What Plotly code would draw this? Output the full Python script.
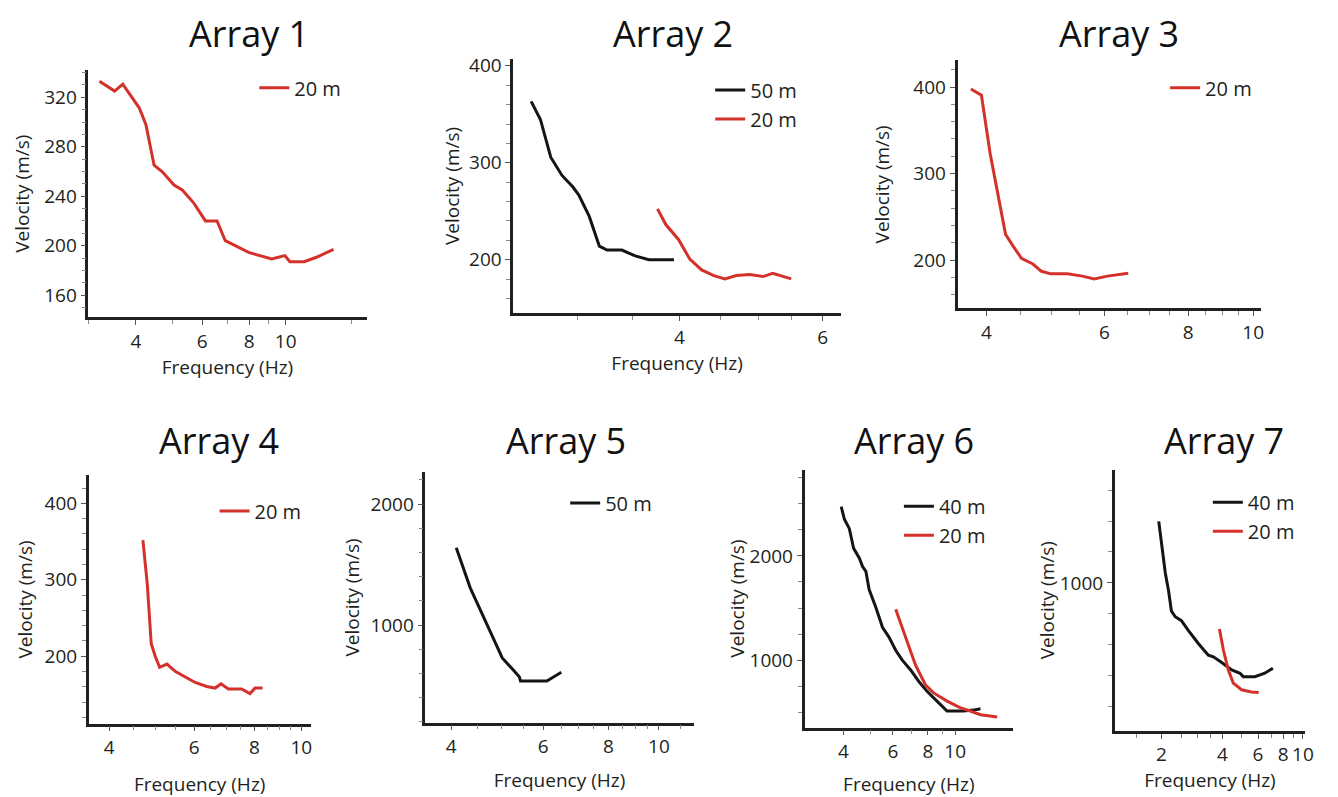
import plotly.graph_objects as go
import math

W, H = 1338, 797
FONT = "Open Sans"
RED = "#d4312b"
BLACK = "#151515"
AXC = "#231f20"

# ---------------- data (frequency Hz, velocity m/s) ----------------
a1_20_f = [3.20, 3.51, 3.69, 4.08, 4.25, 4.47, 4.70, 5.05, 5.31, 5.70, 6.12, 6.57, 6.91, 7.35, 7.97, 9.18, 9.95, 10.26, 11.2, 12.07, 13.4]
a1_20_v = [333, 325, 330.6, 311.5, 298, 265, 259.7, 249, 245, 234.4, 220, 220, 204, 200, 194.5, 189.2, 191.9, 187, 187, 190.6, 197]

a2_50_f = [2.63, 2.70, 2.78, 2.87, 2.96, 3.01, 3.10, 3.19, 3.26, 3.40, 3.53, 3.67, 3.94]
a2_50_v = [363.4, 344.7, 305.8, 287, 275, 266.8, 244.7, 214, 210, 210, 204, 200, 200]
a2_20_f = [3.76, 3.85, 3.99, 4.12, 4.26, 4.41, 4.55, 4.70, 4.88, 5.07, 5.21, 5.49]
a2_20_v = [252.5, 236.3, 221, 200.7, 189.5, 183.7, 180.3, 183.7, 184.7, 182.7, 186, 180.3]

a3_20_f = [3.79, 3.93, 4.05, 4.16, 4.27, 4.38, 4.51, 4.69, 4.83, 4.99, 5.28, 5.56, 5.79, 6.06, 6.51]
a3_20_v = [397.7, 390.5, 322.8, 277, 229.7, 216.3, 202, 195.4, 187, 184, 184, 181.4, 178, 181.4, 184.8]

a4_20_f = [4.70, 4.80, 4.89, 4.99, 5.09, 5.27, 5.49, 5.75, 6.03, 6.37, 6.63, 6.82, 7.06, 7.52, 7.83, 8.02, 8.31]
a4_20_v = [351.8, 293.8, 216.3, 199, 185.4, 189.7, 179.8, 172.5, 165.6, 160.4, 158.3, 163.9, 157, 157, 151, 158.3, 158.3]

a5_50_f = [4.09, 4.35, 4.68, 5.01, 5.26, 5.40, 5.43, 6.10, 6.50]
a5_50_v = [1639, 1307, 1008, 728, 628, 573, 538, 538, 609]

a6_40_f = [3.93, 4.03, 4.20, 4.35, 4.56, 4.68, 4.81, 4.94, 5.22, 5.51, 5.81, 6.14, 6.48, 6.94, 7.42, 7.94, 8.61, 9.35, 9.73, 10.7, 11.6, 12.3]
a6_40_v = [2473, 2356, 2262, 2073, 1978, 1899, 1852, 1678, 1505, 1315, 1221, 1095, 1000, 905, 795, 700, 606, 511, 511, 511, 520, 533]
a6_20_f = [6.14, 6.66, 7.22, 7.83, 8.38, 9.35, 10.4, 11.3, 12.3, 14.1]
a6_20_v = [1489, 1221, 953, 763, 685, 606, 543, 511, 476, 454]

a7_40_f = [1.94, 2.02, 2.09, 2.17, 2.24, 2.34, 2.51, 2.72, 3.05, 3.41, 3.61, 3.97, 4.45, 4.89, 5.07, 5.79, 6.48, 7.11]
a7_40_v = [1398, 1202, 1064, 947, 819, 781, 755, 691, 606, 532, 521, 485, 436, 415, 393, 393, 415, 447]
a7_20_f = [3.87, 4.05, 4.28, 4.53, 4.98, 5.57, 6.05]
a7_20_v = [702, 564, 436, 351, 308, 293, 291]

titles = ["Array 1", "Array 2", "Array 3", "Array 4", "Array 5", "Array 6", "Array 7"]

# ---------------- layout of panels (pixels) ----------------
panels = [
    dict(px=(89, 369), py=(65, 315.7), xr=(2.99, 16.4), yr=(142, 342),
         xt=[4, 6, 8, 10], xm=[3, 5, 7, 9, 15], yt=[160, 200, 240, 280, 320], ym=10,
         xtitle=True, xso=6, yso=10, title_xy=(251, 28), leg_xy=(256, 83),
         series=[("20 m", a1_20_f, a1_20_v, RED)]),
    dict(px=(516.7, 846.7), py=(53.3, 311.7), xr=(2.50, 6.32), yr=(144.7, 407.5),
         xt=[4, 6], xm=[3, 3.5, 4.5, 5, 5.5], yt=[200, 300, 400], ym=20,
         xtitle=True, xso=6, yso=5, title_xy=(678, 28), leg_xy=(715, 100),
         series=[("50 m", a2_50_f, a2_50_v, BLACK), ("20 m", a2_20_f, a2_20_v, RED)]),
    dict(px=(964, 1270), py=(55, 306.7), xr=(3.62, 10.29), yr=(144, 431),
         xt=[4, 6, 8, 10], xm=[4.5, 5, 5.5, 6.5, 7, 7.5, 8.5, 9, 9.5], yt=[200, 300, 400], ym=20,
         xtitle=False, xso=6, yso=19, title_xy=(1127, 28), leg_xy=(1173, 83),
         series=[("20 m", a3_20_f, a3_20_v, RED)]),
    dict(px=(89.3, 312.7), py=(476, 727.7), xr=(3.63, 10.45), yr=(111.7, 436.6),
         xt=[4, 6, 8, 10], xm=[4.5, 5, 5.5, 6.5, 7, 7.5, 8.5, 9, 9.5], yt=[200, 300, 400], ym=20,
         xtitle=True, xso=20, yso=7, title_xy=(220, 441), leg_xy=(216, 512),
         series=[("20 m", a4_20_f, a4_20_v, RED)]),
    dict(px=(428.3, 698.3), py=(472.7, 726.7), xr=(3.57, 11.65), yr=(193, 2263),
         xt=[4, 6, 8, 10], xm=[4.5, 5, 5.5, 6.5, 7, 7.5, 8.5, 9, 9.5, 11], yt=[1000, 2000], ym=200,
         xtitle=True, xso=16, yso=6, title_xy=(570, 441), leg_xy=(569, 504),
         series=[("50 m", a5_50_f, a5_50_v, BLACK)]),
    dict(px=(810, 1020), py=(470, 731.7), xr=(2.91, 16.07), yr=(352, 2830),
         xt=[4, 6, 8, 10], xm=[5, 7, 9], yt=[1000, 2000], ym=250,
         xtitle=True, xso=20, yso=0, title_xy=(920, 441), leg_xy=(905, 522),
         series=[("40 m", a6_40_f, a6_40_v, BLACK), ("20 m", a6_20_f, a6_20_v, RED)]),
    dict(px=(1122.3, 1314), py=(470, 735), xr=(1.176, 10.26), yr=(42, 1734),
         xt=[2, 4, 6, 8, 10], xm=[1.5, 2.5, 3, 3.5, 5, 7, 9], yt=[1000], ym=200,
         xtitle=True, xso=4, yso=0, title_xy=(1232, 441), leg_xy=(1216, 518),
         series=[("40 m", a7_40_f, a7_40_v, BLACK), ("20 m", a7_20_f, a7_20_v, RED)]),
]

fig = go.Figure()
layout = dict(width=W, height=H, margin=dict(l=0, r=0, t=0, b=0),
              paper_bgcolor="white", plot_bgcolor="white", showlegend=True,
              font=dict(family=FONT, color=AXC, size=19), annotations=[])

for i, p in enumerate(panels):
    n = i + 1
    sfx = "" if n == 1 else str(n)
    legname = "legend" if n == 1 else f"legend{n}"
    for (name, fx, vy, col) in p["series"]:
        fig.add_trace(go.Scatter(
            x=fx, y=vy, mode="lines", name=name,
            line=dict(color=col, width=3),
            xaxis="x" + sfx, yaxis="y" + sfx, legend=legname,
            legendgroup=f"{n}-{name}", hoverinfo="skip"))
    xd = [p["px"][0] / W, p["px"][1] / W]
    yd = [1 - p["py"][1] / H, 1 - p["py"][0] / H]
    layout["xaxis" + sfx] = dict(
        domain=xd, type="log",
        range=[math.log10(p["xr"][0]), math.log10(p["xr"][1])],
        anchor="y" + sfx, showgrid=False, zeroline=False,
        showline=True, linecolor=AXC, linewidth=2.5,
        ticks="outside", ticklen=5, tickwidth=1.2, tickcolor="#555",
        tickmode="array", tickvals=p["xt"], ticktext=[str(t) for t in p["xt"]],
        tickfont=dict(size=19, family=FONT, color=AXC),
        minor=dict(tickvals=p["xm"], ticks="outside", ticklen=4, tickwidth=1, tickcolor="#888"),
        title=dict(text="Frequency (Hz)" if p["xtitle"] else "", standoff=p["xso"],
                   font=dict(size=19, family=FONT, color=AXC)),
        fixedrange=True,
    )
    layout["yaxis" + sfx] = dict(
        domain=yd, range=list(p["yr"]), anchor="x" + sfx,
        showgrid=False, zeroline=False,
        showline=True, linecolor=AXC, linewidth=2.5,
        ticks="outside", ticklen=5, tickwidth=1.2, tickcolor="#555",
        tickmode="array", tickvals=p["yt"], ticktext=[str(t) for t in p["yt"]],
        tickfont=dict(size=19, family=FONT, color=AXC),
        minor=dict(dtick=p["ym"], ticks="outside", ticklen=4, tickwidth=1, tickcolor="#888"),
        title=dict(text="Velocity (m/s)", standoff=p["yso"],
                   font=dict(size=19, family=FONT, color=AXC)),
        fixedrange=True,
    )
    lx, ly = p["leg_xy"]
    layout[legname] = dict(
        x=lx / W, y=1 - ly / H, xanchor="left", yanchor="middle",
        bgcolor="rgba(0,0,0,0)", borderwidth=0,
        font=dict(size=20, family=FONT, color=AXC),
        itemwidth=30, tracegroupgap=4, traceorder="normal",
    )
    tx, ty = p["title_xy"]
    layout["annotations"].append(dict(
        text=titles[i], x=tx / W, y=1 - ty / H, xref="paper", yref="paper",
        xanchor="center", yanchor="middle", showarrow=False,
        font=dict(size=36, family=FONT, color="#111")))

fig.update_layout(**layout)
fig.write_html("out.html")
